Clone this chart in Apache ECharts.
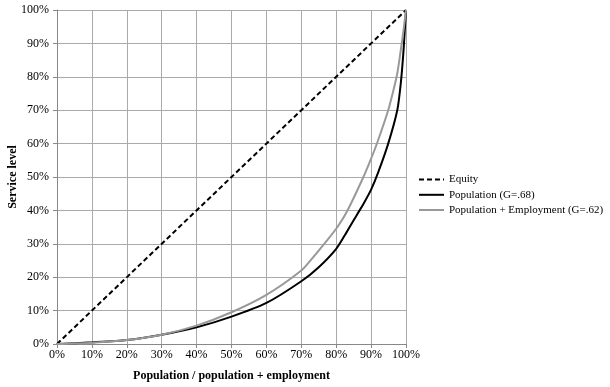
<!DOCTYPE html>
<html><head><meta charset="utf-8">
<script src="https://cdn.jsdelivr.net/npm/echarts@6/dist/echarts.min.js"></script>
<style>html,body{margin:0;padding:0;background:#fff}#c{width:610px;height:387px}</style>
</head><body><div id="c"></div>
<script>
const equityX = [0, 100];
const equityY = [0, 100];
const popX = [0, 10, 20, 30, 40, 50, 60, 70, 75, 80, 83, 86, 88, 90, 92, 94.9, 97.5, 98.5, 99.3, 100];
const popY = [0, 0.5, 1.2, 2.8, 5.0, 8.2, 12.3, 18.8, 23, 28.5, 33.5, 38.8, 42.3, 46.2, 51.3, 60, 70, 78, 88, 100];
const pexX = [0, 10, 20, 30, 40, 50, 60, 70, 73, 76.8, 80, 83, 87.8, 90, 91.6, 94.9, 96.4, 97.5, 98.5, 99.3, 100];
const pexY = [0, 0.4, 1.2, 2.8, 5.5, 9.5, 14.7, 22, 25.5, 30.3, 34.5, 39.5, 50, 55.5, 59.8, 70, 76, 81, 88, 94, 100];
const seriesNames = ['Equity', 'Population (G=.68)', 'Population + Employment (G=.62)'];
const xName = 'Population / population + employment';
const yName = 'Service level';

const zip = (a, b) => a.map((v, i) => [v, b[i]]);
const font = 'Liberation Serif';
const chart = echarts.init(document.getElementById('c'));
chart.setOption({
  animation: false,
  textStyle: {fontFamily: font},
  grid: {left: 57, right: 204, top: 10, bottom: 43, containLabel: false, outerBoundsMode: 'none'},
  legend: {
    orient: 'vertical', left: 413, top: 169, itemWidth: 25, itemHeight: 14, itemGap: 4,
    itemStyle: {opacity: 0},
    textStyle: {fontFamily: font, fontSize: 11, color: '#000'},
    data: seriesNames
  },
  xAxis: {
    type: 'value', min: 0, max: 100, interval: 10,
    name: xName, nameLocation: 'middle', nameGap: 26, nameMoveOverlap: false,
    nameTextStyle: {fontFamily: font, fontWeight: 'bold', fontSize: 12, color: '#000'},
    axisLine: {lineStyle: {color: '#888'}},
    axisTick: {show: true, length: 4, lineStyle: {color: '#888'}},
    axisLabel: {formatter: v => v + '%', color: '#000', fontSize: 12, fontFamily: font, margin: 5},
    splitLine: {lineStyle: {color: '#aaa'}}
  },
  yAxis: {
    type: 'value', min: 0, max: 100, interval: 10,
    name: yName, nameLocation: 'middle', nameGap: 38, nameRotate: 90, nameMoveOverlap: false,
    nameTextStyle: {fontFamily: font, fontWeight: 'bold', fontSize: 12, color: '#000'},
    axisLine: {show: true, lineStyle: {color: '#888'}},
    axisTick: {show: true, length: 4, lineStyle: {color: '#888'}},
    axisLabel: {formatter: v => v + '%', color: '#000', fontSize: 12, fontFamily: font, margin: 8},
    splitLine: {lineStyle: {color: '#aaa'}}
  },
  series: [
    {name: seriesNames[0], type: 'line', data: zip(equityX, equityY), symbol: 'none',
     lineStyle: {color: '#000', width: 2, type: [5, 3]}, itemStyle: {color: '#000'}},
    {name: seriesNames[1], type: 'line', data: zip(popX, popY), symbol: 'none', smooth: 0.25,
     lineStyle: {color: '#000', width: 2}, itemStyle: {color: '#000'}},
    {name: seriesNames[2], type: 'line', data: zip(pexX, pexY), symbol: 'none', smooth: 0.25,
     lineStyle: {color: '#999', width: 2}, itemStyle: {color: '#999'}}
  ]
});
</script></body></html>
